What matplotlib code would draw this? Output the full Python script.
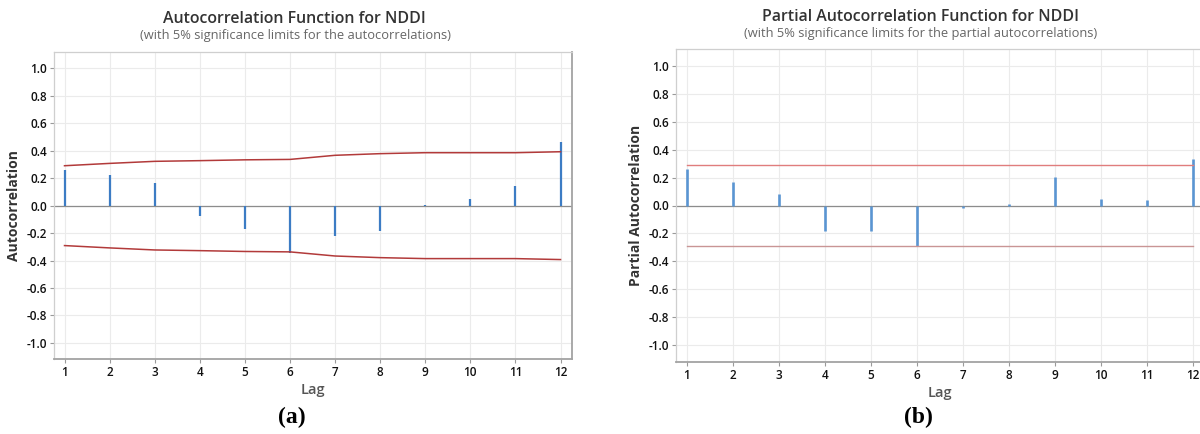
import matplotlib
matplotlib.use("Agg")
import matplotlib.pyplot as plt
import numpy as np

# ------------------------------------------------------------
# data
# ------------------------------------------------------------
lags = [1, 2, 3, 4, 5, 6, 7, 8, 9, 10, 11, 12]

acf = [0.26, 0.225, 0.165, -0.077, -0.17, -0.344, -0.22, -0.186, 0.008, 0.05, 0.145, 0.465]
acf_limit = [0.291, 0.308, 0.323, 0.328, 0.334, 0.337, 0.367, 0.379, 0.386, 0.386, 0.386, 0.393]

pacf = [0.261, 0.17, 0.082, -0.18, -0.184, -0.29, -0.02, 0.014, 0.205, 0.046, 0.038, 0.33]
pacf_limit = 0.292

yticks = [1.0, 0.8, 0.6, 0.4, 0.2, 0.0, -0.2, -0.4, -0.6, -0.8, -1.0]

# ------------------------------------------------------------
# style
# ------------------------------------------------------------
plt.rcParams["font.family"] = ["Open Sans", "DejaVu Sans"]
plt.rcParams["axes.unicode_minus"] = False

W, H = 1200, 434
fig = plt.figure(figsize=(W / 100, H / 100), dpi=100)


def px_axes(left, top, right, bottom):
    return fig.add_axes([left / W, 1 - bottom / H, (right - left) / W, (bottom - top) / H])


def style_axes(ax):
    ax.set_xlim(0.767, 12.248)
    ax.set_ylim(-1.12, 1.12)
    ax.set_xticks(lags)
    ax.set_yticks(yticks)
    ax.set_yticklabels([f"{v:.1f}" for v in yticks])
    ax.grid(True, color="#EBEBEB", linewidth=0.8, zorder=0)
    ax.set_axisbelow(True)
    ax.tick_params(axis="both", labelsize=8.5, colors="#9A9A9A", labelcolor="#111111",
                   length=3, width=0.8, direction="out", pad=2)
    for lab in ax.get_xticklabels() + ax.get_yticklabels():
        lab.set_fontweight("semibold")
    ax.axhline(0, color="#8C8C8C", linewidth=0.9, zorder=2)
    for side in ["left", "top"]:
        ax.spines[side].set_color("#CFCFCF")
        ax.spines[side].set_linewidth(0.9)
    for side in ["right", "bottom"]:
        ax.spines[side].set_color("#A3A3A3")
        ax.spines[side].set_linewidth(1.3)


# ------------------------------------------------------------
# (a) ACF
# ------------------------------------------------------------
ax1 = px_axes(54, 52, 571.7, 359.3)
style_axes(ax1)
ax1.vlines(lags, 0, acf, color="#3C7CC4", linewidth=1.6, zorder=3)
ax1.plot(lags, acf_limit, color="#B23A3A", linewidth=1.1, zorder=4)
ax1.plot(lags, [-v for v in acf_limit], color="#B23A3A", linewidth=1.1, zorder=4)
ax1.set_ylabel("Autocorrelation", fontsize=10, fontweight="bold", color="#333333", labelpad=4)
ax1.set_xlabel("Lag", fontsize=10.5, fontweight="semibold", color="#555555", labelpad=3)

# ------------------------------------------------------------
# (b) PACF  (right edge runs off the figure as in the reference)
# ------------------------------------------------------------
ax2 = px_axes(676, 49.3, 676 + 11.481 * 46.05, 361.7)
style_axes(ax2)
ax2.vlines(lags, 0, pacf, color="#5A95D2", linewidth=1.9, zorder=3)
ax2.axhline(pacf_limit, xmin=(1 - 0.767) / 11.481, xmax=(12 - 0.767) / 11.481,
            color="#E07D7D", linewidth=1.0, zorder=4)
ax2.axhline(-pacf_limit, xmin=(1 - 0.767) / 11.481, xmax=(12 - 0.767) / 11.481,
            color="#C99595", linewidth=1.0, zorder=4)
ax2.set_ylabel("Partial Autocorrelation", fontsize=10, fontweight="bold", color="#333333", labelpad=4)
ax2.set_xlabel("Lag", fontsize=10.5, fontweight="semibold", color="#555555", labelpad=3)

# ------------------------------------------------------------
# titles and panel letters
# ------------------------------------------------------------
fig.text(294 / W, 1 - 19 / H, "Autocorrelation Function for NDDI", ha="center", va="center",
         fontsize=11.4, fontweight="semibold", color="#333333")
fig.text(296 / W, 1 - 36 / H, "(with 5% significance limits for the autocorrelations)",
         ha="center", va="center", fontsize=9.3, color="#666666")
fig.text(921 / W, 1 - 17 / H, "Partial Autocorrelation Function for NDDI", ha="center", va="center",
         fontsize=11.4, fontweight="semibold", color="#333333")
fig.text(921 / W, 1 - 33 / H, "(with 5% significance limits for the partial autocorrelations)",
         ha="center", va="center", fontsize=9.3, color="#666666")

fig.text(292 / W, 1 - 417 / H, "(a)", ha="center", va="center", fontsize=17,
         fontweight="bold", family=["Liberation Serif", "DejaVu Serif"])
fig.text(918 / W, 1 - 417 / H, "(b)", ha="center", va="center", fontsize=17,
         fontweight="bold", family=["Liberation Serif", "DejaVu Serif"])

fig.savefig("out.png", dpi=100)
